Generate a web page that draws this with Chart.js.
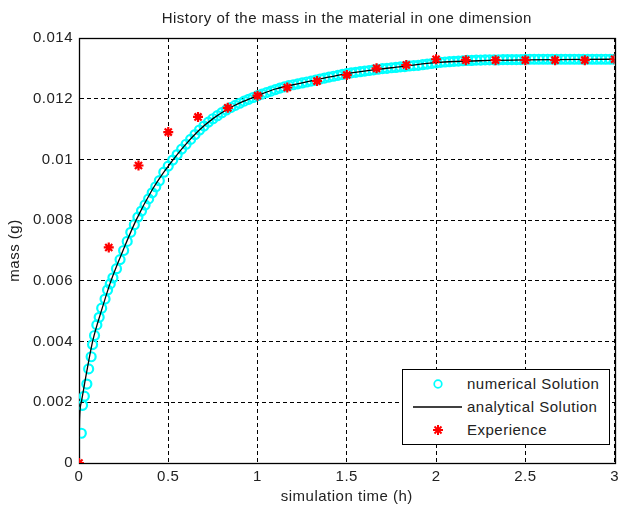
<!DOCTYPE html>
<html>
<head>
<meta charset="utf-8">
<script src="https://cdn.jsdelivr.net/npm/chart.js@4/dist/chart.umd.min.js"></script>
<style>
  html, body { margin: 0; padding: 0; background: #fff; }
  #wrap { position: relative; width: 624px; height: 508px; }
  #legend { position: absolute; left: 402px; top: 369px; width: 206px; height: 74px;
            border: 1px solid #000; background: #fff; font-family: "Liberation Sans", Arial, sans-serif;
            font-size: 15px; letter-spacing: 0.5px; color: #222; }
  #legend .row { position: absolute; left: 64px; height: 18px; line-height: 18px; white-space: nowrap; }
  #legend svg { position: absolute; left: 0; top: 0; }
</style>
</head>
<body>
<div id="wrap">
  <canvas id="c" width="624" height="508"></canvas>
  <div id="legend">
    <svg width="64" height="74">
      <circle cx="35" cy="14" r="3.8" fill="none" stroke="#00ffff" stroke-width="1.7"/>
      <line x1="10" y1="37" x2="59" y2="37" stroke="#000" stroke-width="1.3"/>
      <g stroke="#ff0000" stroke-width="2">
        <line x1="35" y1="55" x2="35" y2="65"/>
        <line x1="30" y1="60" x2="40" y2="60"/>
        <line x1="31.5" y1="56.5" x2="38.5" y2="63.5"/>
        <line x1="38.5" y1="56.5" x2="31.5" y2="63.5"/>
      </g>
    </svg>
    <div class="row" style="top:5px">numerical Solution</div>
    <div class="row" style="top:28px">analytical Solution</div>
    <div class="row" style="top:51px">Experience</div>
  </div>
</div>
<script>
// ---- data ----
const titleText = 'History of the mass in the material in one dimension';
const xTitle = 'simulation time (h)';
const yTitle = 'mass (g)';
const xTicks = [0, 0.5, 1, 1.5, 2, 2.5, 3];
const yTicks = [0, 0.002, 0.004, 0.006, 0.008, 0.01, 0.012, 0.014];

// Experience (red stars)
const expT = [0, 0.1667, 0.3333, 0.5, 0.6667, 0.8333, 1.0, 1.1667, 1.3333, 1.5, 1.6667, 1.8333, 2.0, 2.1667, 2.3333, 2.5, 2.6667, 2.8333, 3.0];
const expM = [0, 0.0071, 0.0098, 0.0109, 0.0114, 0.0117, 0.0121, 0.01237, 0.01258, 0.01278, 0.0130, 0.01311, 0.0133, 0.01327, 0.01327, 0.01327, 0.01327, 0.01327, 0.0133];

// analytical Solution (black line)
const anaT = [0, 0.003, 0.013, 0.04, 0.076, 0.13, 0.179, 0.25, 0.32, 0.41, 0.45, 0.5, 0.588, 0.671, 0.754, 0.837, 0.92, 1.0, 1.1, 1.225, 1.35, 1.5, 1.75, 2.0, 2.3, 2.5, 3.0];
const anaM = [0, 0.0014, 0.0020, 0.0029, 0.0040, 0.0051, 0.0060, 0.00705, 0.0080, 0.0090, 0.00937, 0.00978, 0.01043, 0.01095, 0.01136, 0.01167, 0.01191, 0.0121, 0.01232, 0.01249, 0.01265, 0.01283, 0.01302, 0.01319, 0.01326, 0.01328, 0.01330];

// numerical Solution (cyan circles)
const numT = [0.013, 0.02, 0.03, 0.044, 0.054, 0.068, 0.076, 0.087, 0.1, 0.113, 0.127, 0.146, 0.16, 0.175, 0.19, 0.21, 0.23, 0.25, 0.27, 0.29, 0.31, 0.33, 0.35, 0.37, 0.39, 0.41, 0.43, 0.45, 0.475,
  0.5, 0.525, 0.55, 0.575, 0.6, 0.625, 0.65, 0.675, 0.7, 0.725, 0.75, 0.775, 0.8, 0.825, 0.85, 0.875, 0.9, 0.925, 0.95, 0.975,
  1.0, 1.025, 1.05, 1.075, 1.1, 1.125, 1.15, 1.175, 1.2, 1.225, 1.25, 1.275, 1.3, 1.325, 1.35, 1.375, 1.4, 1.425, 1.45, 1.475,
  1.5, 1.525, 1.55, 1.575, 1.6, 1.625, 1.65, 1.675, 1.7, 1.725, 1.75, 1.775, 1.8, 1.825, 1.85, 1.875, 1.9, 1.925, 1.95, 1.975,
  2.0, 2.025, 2.05, 2.075, 2.1, 2.125, 2.15, 2.175, 2.2, 2.225, 2.25, 2.275, 2.3, 2.325, 2.35, 2.375, 2.4, 2.425, 2.45, 2.475,
  2.5, 2.525, 2.55, 2.575, 2.6, 2.625, 2.65, 2.675, 2.7, 2.725, 2.75, 2.775, 2.8, 2.825, 2.85, 2.875, 2.9, 2.925, 2.95, 2.975, 3.0];
const numM = [0.00098, 0.0019, 0.0022, 0.0026, 0.0031, 0.0035, 0.0039, 0.0042, 0.00455, 0.0048, 0.0051, 0.0054, 0.0057, 0.0059, 0.0061, 0.0064, 0.0067, 0.0070, 0.0073, 0.0076, 0.00785, 0.0081, 0.0083, 0.0085, 0.0087, 0.0089, 0.0091, 0.0093, 0.00958,
  0.00978, 0.00998, 0.01016, 0.01034, 0.0105, 0.01066, 0.01082, 0.01097, 0.0111, 0.01123, 0.01134, 0.01144, 0.01154, 0.01163, 0.01171, 0.01178, 0.01185, 0.01192, 0.01198, 0.01204,
  0.0121, 0.01215, 0.0122, 0.01225, 0.0123, 0.01235, 0.01239, 0.01243, 0.01246, 0.01249, 0.01252, 0.01255, 0.01258, 0.01261, 0.01265, 0.01268, 0.01271, 0.01274, 0.01277, 0.0128,
  0.01283, 0.01285, 0.01287, 0.01289, 0.01291, 0.01293, 0.01295, 0.01297, 0.01299, 0.013, 0.01302, 0.01303, 0.01305, 0.01306, 0.01308, 0.01309, 0.0131, 0.01312, 0.01314, 0.01316,
  0.01318, 0.0132, 0.01321, 0.01322, 0.01323, 0.01324, 0.01325, 0.01326, 0.01326, 0.01327, 0.01327, 0.01328, 0.01328, 0.01328, 0.01328, 0.01329, 0.01329, 0.01329, 0.01329, 0.01329,
  0.0133, 0.0133, 0.0133, 0.0133, 0.0133, 0.0133, 0.0133, 0.0133, 0.0133, 0.0133, 0.0133, 0.0133, 0.0133, 0.0133, 0.0133, 0.0133, 0.0133, 0.0133, 0.0133, 0.0133, 0.0133];

// ---- chart ----
const pts = (xs, ys) => xs.map((x, i) => ({ x: x, y: ys[i] }));
const FONT = '"Liberation Sans", Arial, sans-serif';
const TXT = '#222';
const FS = 15;

const spacingPlugin = {
  id: 'spacing',
  beforeInit(chart) { chart.ctx.letterSpacing = '0.5px'; },
  beforeLayout(chart) { chart.ctx.letterSpacing = '0.5px'; },
  beforeDraw(chart) { chart.ctx.letterSpacing = '0.5px'; }
};

const framePlugin = {
  id: 'frame',
  beforeDatasetsDraw(chart) {
    const a = chart.chartArea, c = chart.ctx;
    c.save();
    c.strokeStyle = '#000';
    c.lineWidth = 1.3;
    c.setLineDash([]);
    c.strokeRect(Math.round(a.left) + 0.5, Math.round(a.top) + 0.5, Math.round(a.right - a.left), Math.round(a.bottom - a.top));
    c.restore();
  }
};

const tickFmt = v => String(parseFloat(Number(v).toFixed(4)));

new Chart(document.getElementById('c'), {
  type: 'scatter',
  data: {
    datasets: [
      { label: 'Experience', data: pts(expT, expM), pointStyle: 'star', pointRadius: 5,
        borderColor: '#ff0000', backgroundColor: '#ff0000', pointBorderWidth: 2.2, order: 1 },
      { label: 'analytical Solution', data: pts(anaT, anaM), showLine: true, borderColor: '#000',
        borderWidth: 1.3, pointRadius: 0, cubicInterpolationMode: 'monotone', order: 2 },
      { label: 'numerical Solution', data: pts(numT, numM), pointStyle: 'circle', pointRadius: 4.5,
        borderColor: '#00ffff', backgroundColor: 'rgba(0,0,0,0)', pointBorderWidth: 2.2, order: 3 }
    ]
  },
  options: {
    responsive: false,
    animation: false,
    layout: { padding: { left: 0, right: 0, top: 0, bottom: 0 } },
    plugins: {
      legend: { display: false },
      tooltip: { enabled: false },
      title: { display: true, text: titleText, color: TXT, fullSize: false,
               font: { family: FONT, size: FS, weight: 'normal' }, padding: { top: 10, bottom: 10 } }
    },
    scales: {
      x: {
        type: 'linear', min: 0, max: 3,
        afterBuildTicks: s => { s.ticks = xTicks.map(v => ({ value: v })); },
        afterFit: s => { s.height = 45; },
        ticks: { color: TXT, font: { family: FONT, size: FS }, padding: 5, callback: tickFmt, maxRotation: 0 },
        grid: { color: '#000', lineWidth: 1, drawTicks: false },
        border: { display: true, color: '#000', width: 1, dash: [4, 3] },
        title: { display: true, text: xTitle, color: TXT, font: { family: FONT, size: FS }, padding: { top: 0, bottom: 2 } }
      },
      y: {
        type: 'linear', min: 0, max: 0.014,
        afterBuildTicks: s => { s.ticks = yTicks.map(v => ({ value: v })); },
        afterFit: s => { s.width = 79; },
        ticks: { color: TXT, font: { family: FONT, size: FS }, padding: 6, callback: tickFmt },
        grid: { color: '#000', lineWidth: 1, drawTicks: false },
        border: { display: true, color: '#000', width: 1, dash: [4, 3] },
        title: { display: true, text: yTitle, color: TXT, font: { family: FONT, size: FS }, padding: { top: 6, bottom: 0 } }
      }
    }
  },
  plugins: [spacingPlugin, framePlugin]
});
</script>
</body>
</html>
